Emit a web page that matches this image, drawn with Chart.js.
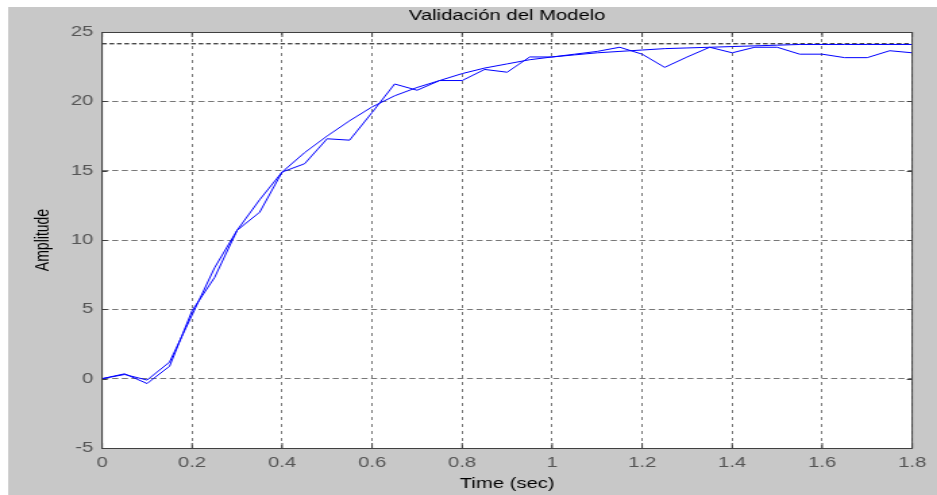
<!DOCTYPE html>
<html>
<head>
<meta charset="utf-8">
<script src="https://cdn.jsdelivr.net/npm/chart.js@4/dist/chart.umd.min.js"></script>
<style>
    html, body { margin: 0; padding: 0; background: #ffffff; overflow: hidden; }
    /* the original figure is a horizontally stretched screenshot, so the chart is drawn narrow and stretched */
    #canvasContainer { width: 694px; height: 495px; transform: scale(1.3502, 1); transform-origin: 0 0; }
    #chartCanvas { display: block; }
</style>
</head>
<body>
<div id="canvasContainer"><canvas id="chartCanvas" width="694" height="495"></canvas></div>
<script>
// time vector of both responses (sec)
let timeValues = [0, 0.05, 0.1, 0.15, 0.2, 0.25, 0.3, 0.35, 0.4, 0.45, 0.5, 0.55, 0.6, 0.65, 0.7, 0.75, 0.8, 0.85, 0.9,
    0.95, 1.0, 1.05, 1.1, 1.15, 1.2, 1.25, 1.3, 1.35, 1.4, 1.45, 1.5, 1.55, 1.6, 1.65, 1.7, 1.75, 1.8];

// measured step response
let measuredValues = [0, 0.35, -0.35, 0.9, 4.9, 7.3, 10.7, 12.0, 14.9, 15.5, 17.3, 17.2, 19.2, 21.25, 20.8, 21.5, 21.5, 22.3, 22.1,
    23.2, 23.2, 23.4, 23.6, 23.9, 23.4, 22.45, 23.2, 23.9, 23.5, 23.9, 23.9, 23.4, 23.4, 23.15, 23.15, 23.65, 23.5];

// identified model step response
let modelValues = [0, 0.3, -0.1, 1.2, 4.6, 8.0, 10.7, 12.9, 14.9, 16.3, 17.5, 18.6, 19.6, 20.4, 21.0, 21.5, 22.0, 22.4, 22.7,
    23.0, 23.2, 23.35, 23.5, 23.6, 23.7, 23.8, 23.85, 23.9, 23.95, 24.0, 24.05, 24.1, 24.1, 24.1, 24.1, 24.1, 24.1];

// steady state value (dashed line)
let steadyTime = [0, 1.8];
let steadyValue = 24.15;

let xTicks = { min: 0, max: 1.8, step: 0.2 };
let yTicks = { min: -5, max: 25, step: 5 };

let toPoints = function (xs, ys) {
    return xs.map(function (x, i) { return { x: x, y: ys[i] }; });
};

// matlab style figure: grey frame, white axes, boxed with inward ticks
let figurePlugin = {
    id: 'figure',
    beforeDraw: function (chart) {
        let ctx = chart.ctx;
        let area = chart.chartArea;
        ctx.save();
        ctx.fillStyle = '#ffffff';
        ctx.fillRect(0, 0, chart.width, chart.height);
        ctx.fillStyle = '#c8c8c8';
        ctx.fillRect(6, 7, chart.width - 6, chart.height - 7);
        ctx.fillStyle = '#ffffff';
        ctx.fillRect(area.left, area.top, area.right - area.left, area.bottom - area.top);
        ctx.restore();
    },
    afterDatasetsDraw: function (chart) {
        let ctx = chart.ctx;
        let area = chart.chartArea;
        let xs = chart.scales.x;
        let ys = chart.scales.y;
        ctx.save();
        ctx.strokeStyle = '#404040';
        ctx.lineWidth = 1;
        ctx.beginPath();
        xs.ticks.forEach(function (t) {
            let px = xs.getPixelForValue(t.value);
            ctx.moveTo(px, area.top);
            ctx.lineTo(px, area.top + 5);
            ctx.moveTo(px, area.bottom);
            ctx.lineTo(px, area.bottom - 5);
        });
        ys.ticks.forEach(function (t) {
            let py = Math.round(ys.getPixelForValue(t.value)) + 0.5;
            ctx.moveTo(area.left, py);
            ctx.lineTo(area.left + 4, py);
            ctx.moveTo(area.right, py);
            ctx.lineTo(area.right - 4, py);
        });
        ctx.stroke();
        ctx.strokeRect(area.left, Math.round(area.top) + 0.5, area.right - area.left, Math.round(area.bottom - area.top));
        ctx.restore();
    }
};

let tickText = function (value) {
    return String(Number(Number(value).toFixed(1)));
};

let labelFont = '"Liberation Sans", Arial, sans-serif';

let config = {
    type: 'line',
    data: {
        datasets: [
            {
                label: 'Modelo',
                data: toPoints(timeValues, modelValues),
                borderColor: '#0000ff',
                borderWidth: 1,
                pointRadius: 0,
                tension: 0
            },
            {
                label: 'Medido',
                data: toPoints(timeValues, measuredValues),
                borderColor: '#0000ff',
                borderWidth: 1,
                pointRadius: 0,
                tension: 0
            },
            {
                label: 'Estado estable',
                data: toPoints(steadyTime, [steadyValue, steadyValue]),
                borderColor: '#000000',
                borderWidth: 1,
                borderDash: [3.5, 2],
                pointRadius: 0
            }
        ]
    },
    options: {
        responsive: false,
        devicePixelRatio: 1,
        animation: false,
        layout: { padding: { left: 0, right: 18.4, top: 0, bottom: 0 } },
        plugins: {
            legend: { display: false },
            tooltip: { enabled: false },
            title: { display: false }
        },
        scales: {
            x: {
                type: 'linear',
                min: xTicks.min,
                max: xTicks.max,
                ticks: {
                    stepSize: xTicks.step,
                    color: '#555555',
                    padding: 6,
                    maxRotation: 0,
                    font: { family: labelFont, size: 15 },
                    callback: tickText
                },
                grid: { color: '#777777', lineWidth: 1, drawTicks: false },
                border: { display: true, color: '#404040', dash: [3, 4] },
                title: {
                    display: true,
                    text: 'Time (sec)',
                    color: '#000000',
                    font: { family: labelFont, size: 15 },
                    padding: { top: 0, bottom: 2 }
                },
                afterFit: function (scale) { scale.height = 47; }
            },
            // top axis only carries the figure title, centred over the axes like matlab does
            xTop: {
                type: 'linear',
                position: 'top',
                min: xTicks.min,
                max: xTicks.max,
                ticks: { display: false },
                grid: { display: false },
                border: { display: false },
                title: {
                    display: true,
                    text: 'Validación del Modelo',
                    color: '#000000',
                    font: { family: labelFont, size: 15 },
                    padding: { top: 7, bottom: 7 }
                },
                afterFit: function (scale) { scale.height = 32; }
            },
            y: {
                type: 'linear',
                min: yTicks.min,
                max: yTicks.max,
                ticks: {
                    stepSize: yTicks.step,
                    color: '#555555',
                    padding: 6.5,
                    font: { family: labelFont, size: 15 },
                    callback: tickText
                },
                grid: { color: '#777777', lineWidth: 1, drawTicks: false },
                border: { display: true, color: '#404040', dash: [4.5, 2.6] },
                title: {
                    display: true,
                    text: 'Amplitude',
                    color: '#000000',
                    font: { family: labelFont, size: 14 },
                    padding: { top: 23.5, bottom: 0 }
                },
                afterFit: function (scale) { scale.width = 75.6; }
            }
        }
    },
    plugins: [figurePlugin]
};

window.onload = function () {
    let chartCanvas = document.getElementById('chartCanvas').getContext('2d');
    new Chart(chartCanvas, config);
};
</script>
</body>
</html>
